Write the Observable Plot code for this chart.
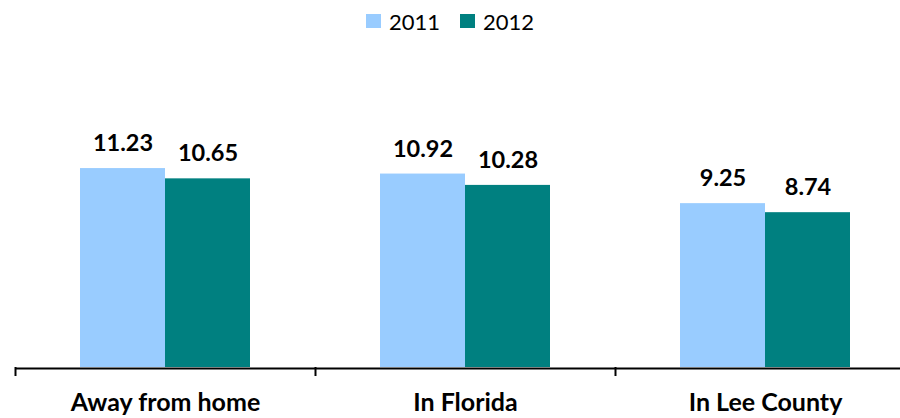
<!DOCTYPE html>
<html>
<head>
<meta charset="utf-8">
<script src="https://cdn.jsdelivr.net/npm/d3@7"></script>
<script src="https://cdn.jsdelivr.net/npm/@observablehq/plot@0.6"></script>
<style>
  html, body { margin: 0; padding: 0; background: #fff; overflow: hidden; width: 900px; height: 418px; }
  #legend { height: 42px; display: flex; justify-content: center; align-items: center; font-family: Lato, "Open Sans", sans-serif; font-size: 22px; color: #000; }
  #legend .item { display: flex; align-items: center; margin: 0 10px; }
  #legend .sw { width: 15px; height: 14px; margin-right: 8px; }
  #chart svg { display: block; overflow: hidden; }
</style>
</head>
<body>
<div id="legend"></div>
<div id="chart"></div>
<script>
const categories = ["Away from home", "In Florida", "In Lee County"];
const years = ["2011", "2012"];
const values2011 = [11.23, 10.92, 9.25];
const values2012 = [10.65, 10.28, 8.74];
const colors = ["#99CCFF", "#008080"];

const data = [];
categories.forEach((c, i) => {
  data.push({category: c, year: years[0], value: values2011[i]});
  data.push({category: c, year: years[1], value: values2012[i]});
});

const legend = document.getElementById("legend");
years.forEach((y, i) => {
  const it = document.createElement("div");
  it.className = "item";
  const sw = document.createElement("div");
  sw.className = "sw";
  sw.style.background = colors[i];
  const t = document.createElement("span");
  t.textContent = y;
  it.appendChild(sw);
  it.appendChild(t);
  legend.appendChild(it);
});

const font = "Lato, 'Open Sans', sans-serif";

const chart = Plot.plot({
  width: 900,
  height: 376,
  marginLeft: 15,
  marginRight: -15,
  marginTop: 77,
  marginBottom: 51,
  style: {fontFamily: font, background: "#fff", overflow: "hidden"},
  fx: {domain: categories, padding: 0, label: null},
  x: {domain: years, paddingInner: 0, paddingOuter: 0.7647, axis: null},
  y: {domain: [0, 14], axis: null},
  color: {domain: years, range: colors},
  marks: [
    Plot.barY(data, {fx: "category", x: "year", y: "value", fill: "year"}),
    Plot.text(data, {
      fx: "category", x: "year", y: "value",
      text: d => d.value.toFixed(2),
      lineAnchor: "middle", dy: -25,
      fontSize: 23.5, fontWeight: "bold", fill: "#000"
    }),
    Plot.ruleY([0], {stroke: "#000", strokeWidth: 2, dy: 1}),
    Plot.axisFx({
      anchor: "bottom", tickSize: 9, dx: -150, strokeWidth: 2, stroke: "#000",
      tickFormat: () => "", label: null
    }),
    Plot.text(categories, {
      fx: d => d, text: d => d, frameAnchor: "bottom",
      lineAnchor: "middle", dy: 35,
      fontSize: 25, fontWeight: "bold", fill: "#000"
    })
  ]
});
document.getElementById("chart").appendChild(chart);
</script>
</body>
</html>
